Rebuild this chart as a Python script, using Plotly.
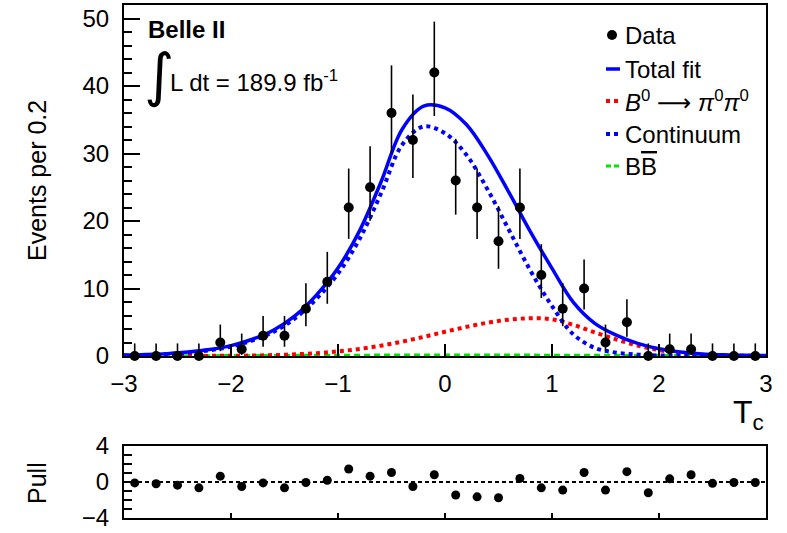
import numpy as np
import plotly.graph_objects as go

# ---- data: T_c histogram, 0.2-wide bins ----
bin_centers = [-2.9, -2.7, -2.5, -2.3, -2.1, -1.9, -1.7, -1.5, -1.3, -1.1,
               -0.9, -0.7, -0.5, -0.3, -0.1, 0.1, 0.3, 0.5, 0.7, 0.9,
               1.1, 1.3, 1.5, 1.7, 1.9, 2.1, 2.3, 2.5, 2.7, 2.9]
counts = [0, 0, 0, 0, 2, 1, 3, 3, 7, 11,
          22, 25, 36, 32, 42, 26, 22, 17, 22, 12,
          7, 10, 2, 5, 0, 1, 1, 0, 0, 0]
pulls = [-0.1, -0.2, -0.35, -0.65, 0.65, -0.5, -0.1, -0.65, -0.05, 0.2,
         1.45, 0.65, 1.05, -0.5, 0.8, -1.45, -1.65, -1.75, 0.4, -0.65,
         -0.9, 1.05, -0.9, 1.15, -1.2, 0.35, 0.8, -0.15, -0.05, -0.05]

# ---- fit components sampled along T_c ----
curve_x = [-3.0, -2.8, -2.6, -2.4, -2.2, -2.0, -1.8, -1.6, -1.4, -1.2, -1.0,
           -0.8, -0.6, -0.4, -0.2, 0.0, 0.2, 0.4, 0.6, 0.8, 1.0,
           1.2, 1.4, 1.6, 1.8, 2.0, 2.2, 2.4, 2.6, 2.8, 3.0]
continuum = [0.08, 0.15, 0.28, 0.5, 0.85, 1.4, 2.3, 3.6, 5.6, 8.5, 12.2,
             17.3, 24.0, 31.3, 34.0, 33.0, 29.8, 24.6, 18.6, 12.6, 7.4,
             3.2, 1.2, 0.5, 0.2, 0.08, 0.04, 0.02, 0.01, 0.0, 0.0]
signal = [0.0, 0.0, 0.0, 0.01, 0.02, 0.04, 0.07, 0.14, 0.25, 0.42, 0.68,
          1.04, 1.53, 2.13, 2.83, 3.59, 4.31, 4.94, 5.39, 5.59, 5.43,
          4.6, 3.5, 2.45, 1.55, 0.88, 0.45, 0.2, 0.08, 0.03, 0.01]
bbbar = [0.05, 0.06, 0.07, 0.08, 0.09, 0.1, 0.11, 0.12, 0.13, 0.14, 0.15,
         0.16, 0.17, 0.17, 0.18, 0.18, 0.18, 0.18, 0.17, 0.17, 0.16,
         0.15, 0.14, 0.13, 0.12, 0.11, 0.1, 0.09, 0.08, 0.07, 0.06]

# total fit is the sum of the three components
total = np.array(continuum) + np.array(signal) + np.array(bbbar)

# asymmetric Poisson (Gehrels) error bars on the counts
n = np.array(counts, dtype=float)
err_hi = 1.0 + np.sqrt(n + 0.75)
with np.errstate(divide="ignore", invalid="ignore"):
    lo = np.where(n > 0, n * (1 - 1 / (9 * n) - 1 / (3 * np.sqrt(n))) ** 3, 0.0)
err_lo = n - lo

FONT = "Liberation Sans, Arial, Helvetica, sans-serif"
BLUE, RED, GREEN = "rgb(0,0,255)", "rgb(255,0,0)", "rgb(0,230,0)"

W, H = 787, 533
ML, MR, MT, MB = 124, 21, 5, 15
PW, PH = W - ML - MR, H - MT - MB


def px(x):
    return (x - ML) / PW


def py(y):
    return (H - MB - y) / PH


fig = go.Figure()

# fit curves
fig.add_trace(go.Scatter(x=curve_x, y=bbbar, mode="lines", xaxis="x", yaxis="y",
                         line=dict(color=GREEN, width=2.5, dash="6px,4px", shape="spline"),
                         showlegend=False, hoverinfo="skip"))
fig.add_trace(go.Scatter(x=curve_x, y=signal, mode="lines", xaxis="x", yaxis="y",
                         line=dict(color=RED, width=4, dash="4px,4px", shape="spline"),
                         showlegend=False))
fig.add_trace(go.Scatter(x=curve_x, y=continuum, mode="lines", xaxis="x", yaxis="y",
                         line=dict(color=BLUE, width=4, dash="4px,4px", shape="spline"),
                         showlegend=False))
fig.add_trace(go.Scatter(x=curve_x, y=total, mode="lines", xaxis="x", yaxis="y",
                         line=dict(color=BLUE, width=3.5, shape="spline"),
                         showlegend=False))

# data points
fig.add_trace(go.Scatter(x=bin_centers, y=counts, mode="markers", xaxis="x", yaxis="y",
                         marker=dict(color="black", size=10),
                         error_y=dict(type="data", symmetric=False, array=err_hi,
                                      arrayminus=err_lo, color="black", thickness=1.6, width=0),
                         cliponaxis=False, showlegend=False))

# pull panel
fig.add_trace(go.Scatter(x=bin_centers, y=pulls, mode="markers", xaxis="x2", yaxis="y2",
                         marker=dict(color="black", size=9), cliponaxis=False,
                         showlegend=False))

ax_common = dict(showline=True, linecolor="black", linewidth=2, mirror=True,
                 showgrid=False, zeroline=False, ticks="inside", tickcolor="black",
                 tickwidth=1.5, automargin=False,
                 tickfont=dict(family=FONT, size=24, color="black"))

fig.update_layout(
    width=W, height=H,
    margin=dict(l=ML, r=MR, t=MT, b=MB, autoexpand=False),
    paper_bgcolor="white", plot_bgcolor="white",
    font=dict(family=FONT, color="black"),
    xaxis=dict(ax_common, domain=[0, 1], range=[-3, 3], dtick=1, tick0=0,
               ticklen=12, anchor="y", ticklabelstandoff=5),
    yaxis=dict(ax_common, domain=[py(356), 1], range=[0, 52], dtick=10, tick0=0,
               ticklen=16, anchor="x", ticklabelstandoff=8,
               minor=dict(dtick=2, ticklen=8, ticks="inside", tickcolor="black",
                          tickwidth=1.5)),
    xaxis2=dict(ax_common, domain=[0, 1], range=[-3, 3], dtick=1, tick0=0,
                ticklen=5, anchor="y2", showticklabels=False, matches="x"),
    yaxis2=dict(ax_common, domain=[0, py(446)], range=[-4, 4], dtick=4, tick0=0,
                ticklen=16, anchor="x2", ticklabelstandoff=8,
                minor=dict(dtick=1, ticklen=8, ticks="inside", tickcolor="black",
                           tickwidth=1.5)),
    showlegend=False,
)

shapes = []
# dashed zero line of the pull panel
shapes.append(dict(type="line", xref="x2", yref="y2", x0=-3, x1=3, y0=0, y1=0,
                   line=dict(color="black", width=2, dash="4px,3px"), layer="below"))

annotations = []


def text(x, y, s, size=24, xanchor="left", angle=0, family=FONT):
    annotations.append(dict(xref="paper", yref="paper", x=px(x), y=py(y), text=s,
                            showarrow=False, xanchor=xanchor, yanchor="middle",
                            textangle=angle,
                            font=dict(family=family, size=size, color="black")))


# legend drawn as small symbols plus labels
leg_x0, leg_x1, leg_tx = 606, 620, 623
rows = [35, 69, 101, 134, 166]
shapes.append(dict(type="circle", xref="paper", yref="paper",
                   x0=px(607), x1=px(617), y0=py(rows[0] + 5), y1=py(rows[0] - 5),
                   fillcolor="black", line=dict(color="black", width=0)))
legend_lines = [
    (rows[1], BLUE, "solid", 3.5),
    (rows[2], RED, "4px,4px", 4),
    (rows[3], BLUE, "4px,4px", 4),
    (rows[4], GREEN, "5px,3px", 3),
]
for y, c, d, w in legend_lines:
    shapes.append(dict(type="line", xref="paper", yref="paper",
                       x0=px(leg_x0), x1=px(leg_x1), y0=py(y), y1=py(y),
                       line=dict(color=c, width=w, dash=d)))
text(leg_tx, rows[0], "Data")
text(leg_tx, rows[1], "Total fit")
text(leg_tx, rows[2], "<i>B</i><sup>0</sup> <span style='font-family:DejaVu Sans'>⟶</span> "
                      "<i>π</i><sup>0</sup><i>π</i><sup>0</sup>")
text(leg_tx, rows[3], "Continuum")
text(leg_tx, rows[4], "B<span style='text-decoration:overline'>B</span>")

# experiment label and luminosity
text(146, 29, "<b>Belle II</b>", size=24)
text(142, 75, "∫", size=58, family="DejaVu Sans, " + FONT)
text(168, 81, "L dt = 189.9 fb<sup>-1</sup>", size=24)

# axis titles
text(766, 414, "T<sub>c</sub>", size=32, xanchor="right")
text(37, 181, "Events per 0.2", size=25, xanchor="center", angle=-90)
text(37, 483, "Pull", size=25, xanchor="center", angle=-90)

fig.update_layout(shapes=shapes, annotations=annotations)

fig.write_html("out.html")
